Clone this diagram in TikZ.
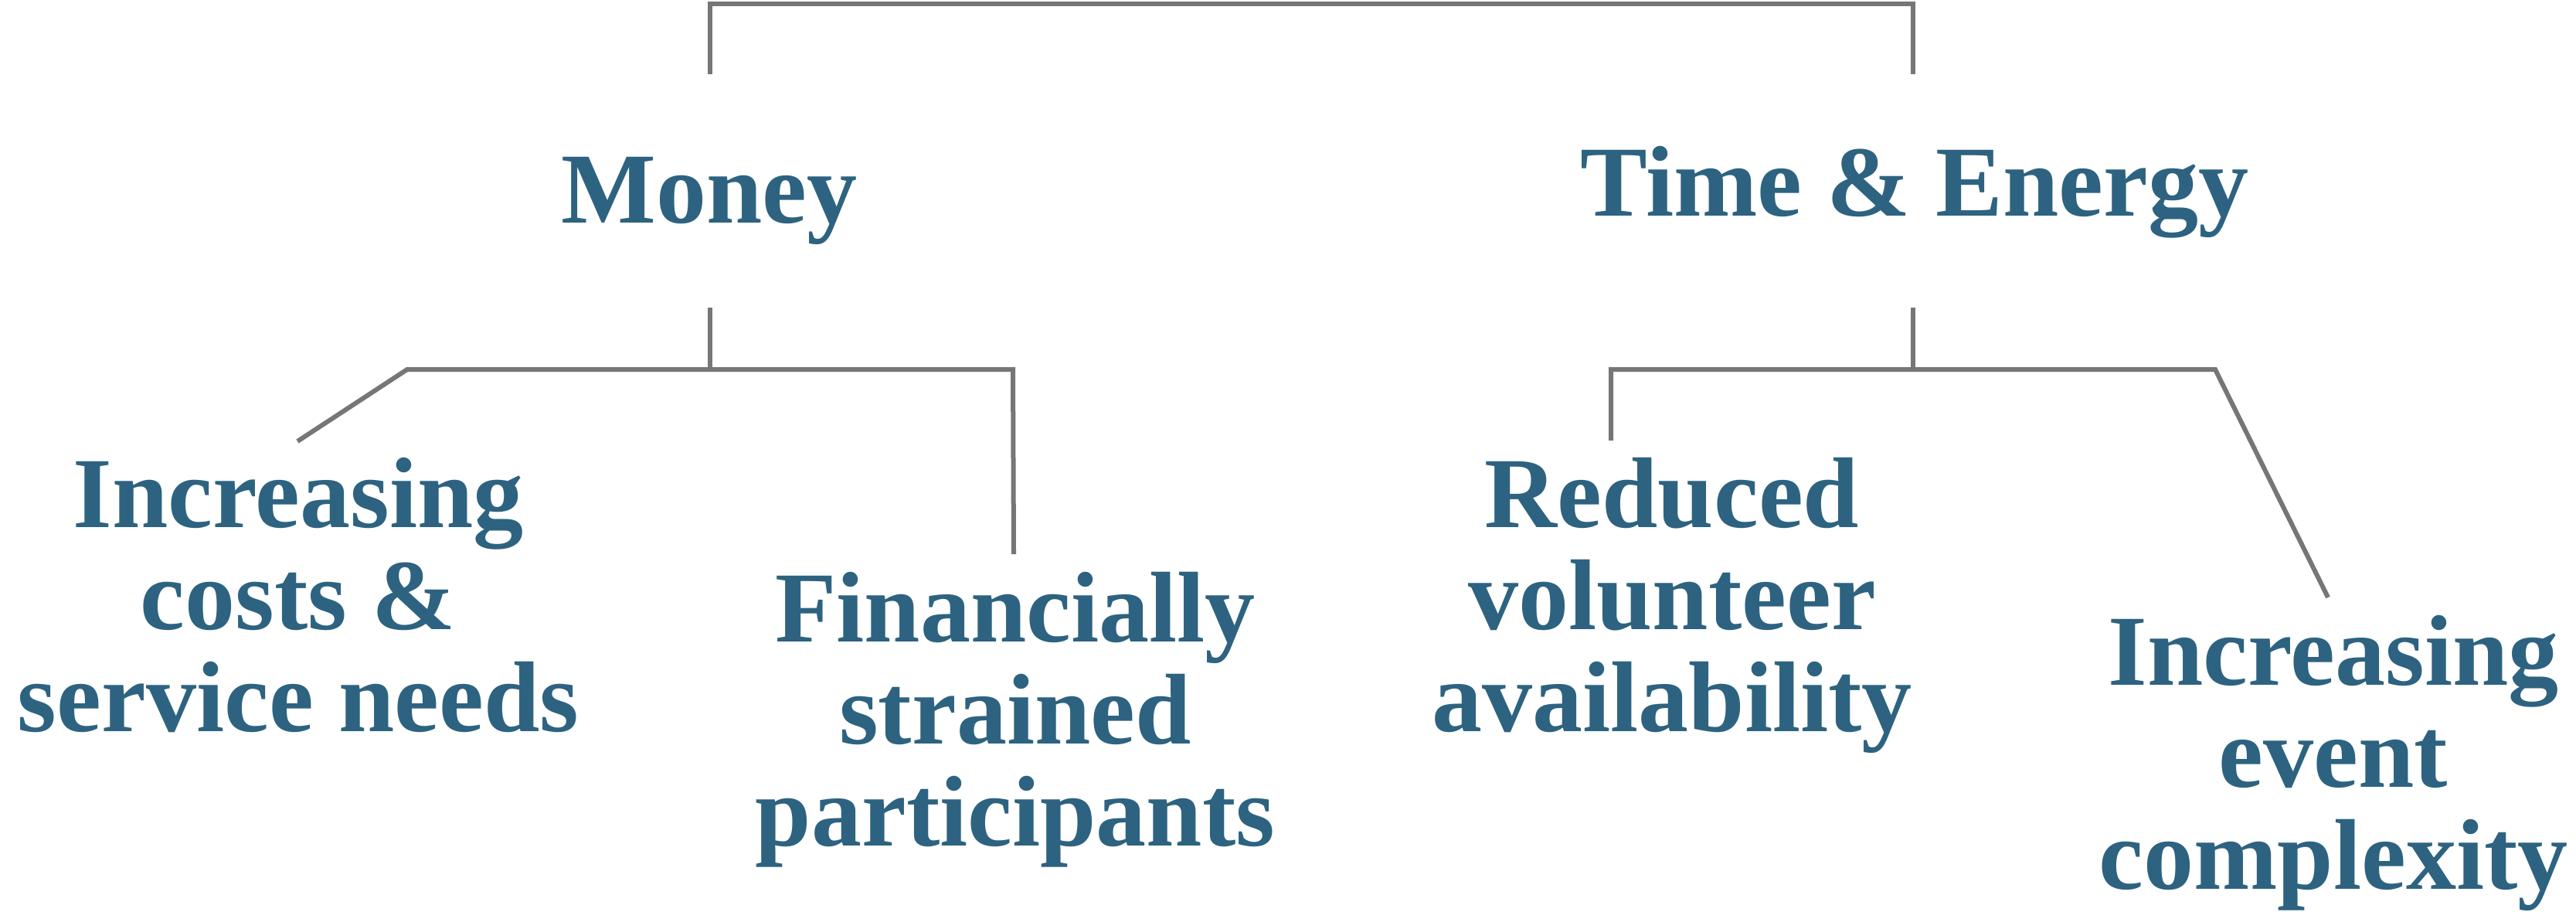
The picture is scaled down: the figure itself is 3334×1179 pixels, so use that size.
\documentclass[tikz,border=0pt]{standalone}
\usepackage{fontspec}
\setmainfont{Liberation Serif}
\definecolor{txt}{HTML}{2D6380}
\definecolor{ln}{HTML}{767676}
\begin{document}
\begin{tikzpicture}[x=0.01cm,y=-0.01cm,
  lbl/.style={inner sep=0pt,anchor=base,align=center,text=txt,
    font=\fontsize{37pt}{37.4pt}\selectfont\bfseries},
  conn/.style={draw=ln,line width=0.06cm,line cap=butt,line join=miter}]
\useasboundingbox (0,0) rectangle (3334,1179);
% labels (anchor base = baseline of the last line)
\node[lbl] (money) at (918,288) {Money};
\node[lbl] (time) at (2478,279) {Time \& Energy};
\node[lbl] (costs) at (386,946) {Increasing\\costs \&\\service needs};
\node[lbl] (fin) at (1314,1094) {Financially\\strained\\participants};
\node[lbl] (vol) at (2164,946) {Reduced\\volunteer\\availability};
\node[lbl] (event) at (3020,1150) {Increasing\\event\\complexity};
% joints
\coordinate (topL) at (919,5);
\coordinate (topR) at (2476,5);
\coordinate (mTop) at (919,96);
\coordinate (tTop) at (2476,96);
\coordinate (mBot) at (919,398);
\coordinate (tBot) at (2476,398);
\coordinate (mJ) at (919,478);
\coordinate (tJ) at (2476,478);
\coordinate (lbL) at (527,478);
\coordinate (lbR) at (1311,478);
\coordinate (rbL) at (2085,478);
\coordinate (rbR) at (2867,478);
\coordinate (costsEnd) at (385,571);
\coordinate (finEnd) at (1312,717);
\coordinate (volEnd) at (2085,570);
\coordinate (eventEnd) at (3013,773);
% connectors
\draw[conn] (mTop) -- (topL) -- (topR) -- (tTop);
\draw[conn] (mBot) -- (mJ);
\draw[conn] (tBot) -- (tJ);
\draw[conn] (costsEnd) -- (lbL) -- (lbR) -- (finEnd);
\draw[conn] (volEnd) -- (rbL) -- (rbR) -- (eventEnd);
\end{tikzpicture}
\end{document}
